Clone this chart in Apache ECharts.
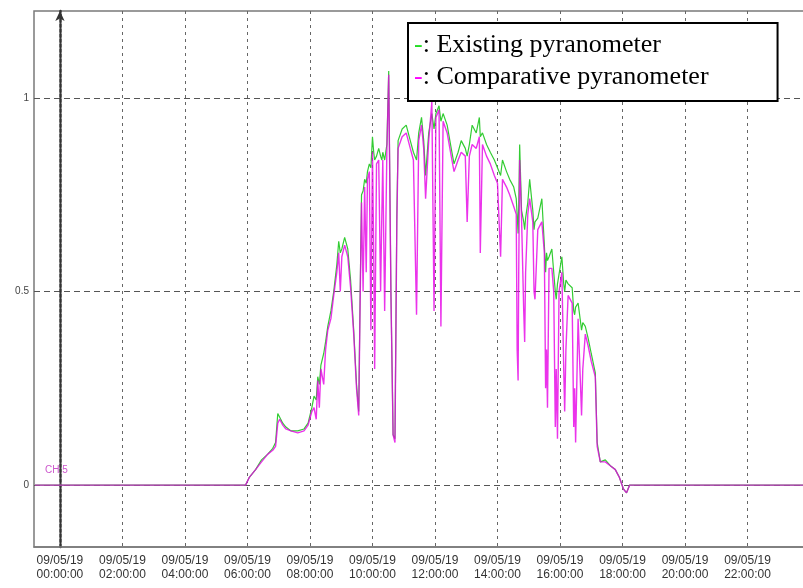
<!DOCTYPE html>
<html>
<head>
<meta charset="utf-8">
<script src="https://cdn.jsdelivr.net/npm/echarts@6/dist/echarts.min.js"></script>
<style>
    html, body { margin: 0; padding: 0; background: #fff; }
    #chart { width: 803px; height: 588px; }
</style>
</head>
<body>
<div id="chart"></div>
<script>
// time of day in hours, 09/05/19
const hours = [
    -0.8, 2, 4, 5.94, 6.06, 6.26, 6.45, 6.65, 6.81, 6.9, 6.97, 7.03, 7.13, 7.23, 7.39, 7.61, 7.81, 7.94,
    8.06, 8.13, 8.2, 8.25, 8.3, 8.35, 8.44, 8.5, 8.57, 8.67, 8.76, 8.86, 8.92, 8.97, 9.02, 9.11, 9.21, 9.3, 9.4, 9.49, 9.56,
    9.6, 9.65, 9.7, 9.75, 9.8, 9.84, 9.9, 9.95, 10.0, 10.04, 10.07, 10.13, 10.2, 10.26, 10.3, 10.33, 10.39, 10.46,
    10.52, 10.59, 10.66, 10.72, 10.78, 10.82, 10.95, 11.08, 11.21, 11.31, 11.41, 11.48, 11.57, 11.64, 11.7, 11.8, 11.9, 11.97, 12.03, 12.13, 12.19, 12.26,
    12.39, 12.52, 12.61, 12.74, 12.84, 12.97, 13.03, 13.1, 13.19, 13.32, 13.42, 13.45, 13.52, 13.65, 13.77, 13.9, 14.0, 14.1, 14.16, 14.29, 14.39,
    14.52, 14.6, 14.63, 14.66, 14.68, 14.71, 14.77, 14.84, 14.87, 14.9, 14.97, 15.03, 15.13, 15.17, 15.2, 15.29, 15.42, 15.5, 15.54, 15.57, 15.6, 15.65,
    15.74, 15.8, 15.85, 15.88, 15.92, 15.97, 16.06, 16.12, 16.15, 16.19, 16.26, 16.39, 16.44, 16.47, 16.5, 16.58, 16.66, 16.69, 16.73, 16.81, 16.9, 17.0, 17.13,
    17.19, 17.29, 17.45, 17.61, 17.77, 17.9, 18.03, 18.13, 18.23, 20, 22, 23.84
];

// -: Existing pyranometer
const existing = [
    0, 0, 0, 0, 0.02, 0.04, 0.065, 0.08, 0.095, 0.11, 0.185, 0.19, 0.16, 0.15, 0.14, 0.14, 0.145, 0.16,
    0.2, 0.23, 0.22, 0.28, 0.26, 0.31, 0.34, 0.37, 0.41, 0.45, 0.5, 0.57, 0.63, 0.6, 0.61, 0.64, 0.61, 0.53, 0.4, 0.26, 0.19,
    0.46, 0.75, 0.76, 0.79, 0.78, 0.81, 0.83, 0.82, 0.9, 0.86, 0.84, 0.85, 0.87, 0.85, 0.84, 0.86, 0.84, 0.88,
    1.07, 0.5, 0.13, 0.12, 0.7, 0.89, 0.92, 0.93, 0.89, 0.86, 0.84, 0.91, 0.95, 0.89, 0.8, 0.91, 0.96, 0.92, 0.96, 0.98, 0.94, 0.96,
    0.93, 0.87, 0.83, 0.86, 0.89, 0.87, 0.85, 0.88, 0.93, 0.91, 0.95, 0.9, 0.91, 0.88, 0.86, 0.84, 0.82, 0.8, 0.84, 0.81, 0.79,
    0.77, 0.74, 0.7, 0.65, 0.72, 0.88, 0.71, 0.68, 0.66, 0.69, 0.73, 0.79, 0.71, 0.66, 0.68, 0.69, 0.74, 0.62, 0.55, 0.6, 0.58, 0.59,
    0.61, 0.55, 0.5, 0.48, 0.52, 0.52, 0.59, 0.52, 0.5, 0.53, 0.52, 0.51, 0.45, 0.44, 0.46, 0.47, 0.42, 0.4, 0.42, 0.41, 0.38, 0.34, 0.29,
    0.11, 0.06, 0.065, 0.05, 0.04, 0.02, -0.01, -0.02, 0, 0, 0, 0
];

// -: Comparative pyranometer
const comparative = [
    0, 0, 0, 0, 0.02, 0.04, 0.06, 0.08, 0.09, 0.1, 0.16, 0.17, 0.155, 0.145, 0.14, 0.135, 0.14, 0.155,
    0.19, 0.2, 0.17, 0.27, 0.2, 0.3, 0.26, 0.35, 0.4, 0.43, 0.49, 0.55, 0.6, 0.5, 0.59, 0.62, 0.59, 0.51, 0.39, 0.25, 0.18,
    0.44, 0.73, 0.5, 0.77, 0.55, 0.79, 0.81, 0.4, 0.86, 0.6, 0.3, 0.83, 0.84, 0.5, 0.7, 0.84, 0.45, 0.86,
    1.06, 0.5, 0.13, 0.11, 0.68, 0.87, 0.9, 0.91, 0.87, 0.84, 0.44, 0.89, 0.93, 0.87, 0.74, 0.89, 0.99, 0.45, 0.95, 0.97, 0.41, 0.94,
    0.91, 0.85, 0.81, 0.84, 0.86, 0.85, 0.68, 0.85, 0.88, 0.87, 0.9, 0.6, 0.88, 0.85, 0.83, 0.8, 0.78, 0.59, 0.79, 0.77, 0.75,
    0.72, 0.7, 0.35, 0.27, 0.55, 0.84, 0.69, 0.45, 0.37, 0.55, 0.7, 0.74, 0.68, 0.5, 0.48, 0.66, 0.68, 0.6, 0.25, 0.35, 0.2, 0.56,
    0.56, 0.5, 0.15, 0.3, 0.12, 0.5, 0.55, 0.3, 0.19, 0.35, 0.49, 0.47, 0.15, 0.25, 0.11, 0.43, 0.25, 0.18, 0.3, 0.39, 0.36, 0.32, 0.28,
    0.1, 0.06, 0.06, 0.05, 0.04, 0.02, -0.01, -0.02, 0, 0, 0, 0
];

const xTickHours = [0, 2, 4, 6, 8, 10, 12, 14, 16, 18, 20, 22];
const xTickLabels = ['00:00:00', '02:00:00', '04:00:00', '06:00:00', '08:00:00', '10:00:00',
    '12:00:00', '14:00:00', '16:00:00', '18:00:00', '20:00:00', '22:00:00'];
const dateLabel = '09/05/19';
const yTicks = [0, 0.5, 1];
const yTickLabels = ['0', '0.5', '1'];

const seriesNames = ['Existing pyranometer', 'Comparative pyranometer'];

const pairs = (vals) => hours.map((h, i) => [h, vals[i]]);

const chart = echarts.init(document.getElementById('chart'));
chart.setOption({
    animation: false,
    backgroundColor: '#fff',
    grid: {
        left: 34,
        top: 11,
        right: -2,
        bottom: 41,
        outerBoundsMode: 'none',
        show: true,
        borderColor: '#7a7a7a',
        borderWidth: 1.5
    },
    legend: {
        left: 408,
        top: 23,
        orient: 'vertical',
        padding: [7, 69, 9, 0],
        itemGap: 2,
        itemWidth: 0,
        itemHeight: 0,
        borderColor: '#000',
        borderWidth: 2,
        backgroundColor: '#fff',
        selectedMode: false,
        data: seriesNames,
        formatter: function (name) {
            let key = name === seriesNames[0] ? 'g' : 'm';
            return '{' + key + '|-}{t|: ' + name + '}';
        },
        textStyle: {
            fontFamily: 'Liberation Serif',
            fontSize: 26,
            lineHeight: 30,
            color: '#000',
            rich: {
                g: { color: '#22dd22', fontFamily: 'Liberation Serif', fontSize: 26, lineHeight: 30 },
                m: { color: '#ff00ff', fontFamily: 'Liberation Serif', fontSize: 26, lineHeight: 30 },
                t: { color: '#000', fontFamily: 'Liberation Serif', fontSize: 26, lineHeight: 30 }
            }
        }
    },
    graphic: [{
        type: 'text',
        left: 45,
        top: 465,
        style: {
            text: 'CH 5',
            fill: '#cc55cc',
            font: '10px "Liberation Sans"'
        }
    }],
    xAxis: {
        type: 'value',
        min: -0.83,
        max: 23.84,
        axisLine: {
            onZero: false,
            lineStyle: { color: '#7a7a7a', width: 1.5 }
        },
        axisTick: { show: false, customValues: xTickHours },
        axisLabel: {
            customValues: xTickHours,
            margin: 7,
            fontFamily: 'Liberation Sans',
            fontSize: 12,
            lineHeight: 14,
            color: '#333',
            formatter: function (v) {
                let i = xTickHours.indexOf(v);
                return dateLabel + '\n' + xTickLabels[i];
            }
        },
        splitLine: {
            show: true,
            lineStyle: { color: '#666', width: 1, type: [3, 4] }
        }
    },
    yAxis: {
        type: 'value',
        min: -0.16,
        max: 1.225,
        axisLine: {
            show: true,
            onZero: true,
            symbol: ['none', 'arrow'],
            symbolSize: [7, 10],
            lineStyle: { color: '#333', width: 2.5, type: [3, 2] }
        },
        axisTick: { show: false, customValues: yTicks },
        axisLabel: {
            customValues: yTicks,
            margin: 5,
            fontFamily: 'Liberation Sans',
            fontSize: 10,
            color: '#444',
            formatter: function (v) {
                return yTickLabels[yTicks.indexOf(v)];
            }
        },
        splitLine: {
            show: true,
            lineStyle: { color: '#555', width: 1, type: [6, 4] }
        }
    },
    series: [{
        name: seriesNames[0],
        type: 'line',
        showSymbol: false,
        symbol: 'none',
        color: '#33cc33',
        lineStyle: { width: 1.2, color: '#33cc33' },
        data: pairs(existing)
    }, {
        name: seriesNames[1],
        type: 'line',
        showSymbol: false,
        symbol: 'none',
        color: '#e600e6',
        lineStyle: { width: 1.4, color: '#e600e6', opacity: 0.8 },
        data: pairs(comparative)
    }]
});
</script>
</body>
</html>
